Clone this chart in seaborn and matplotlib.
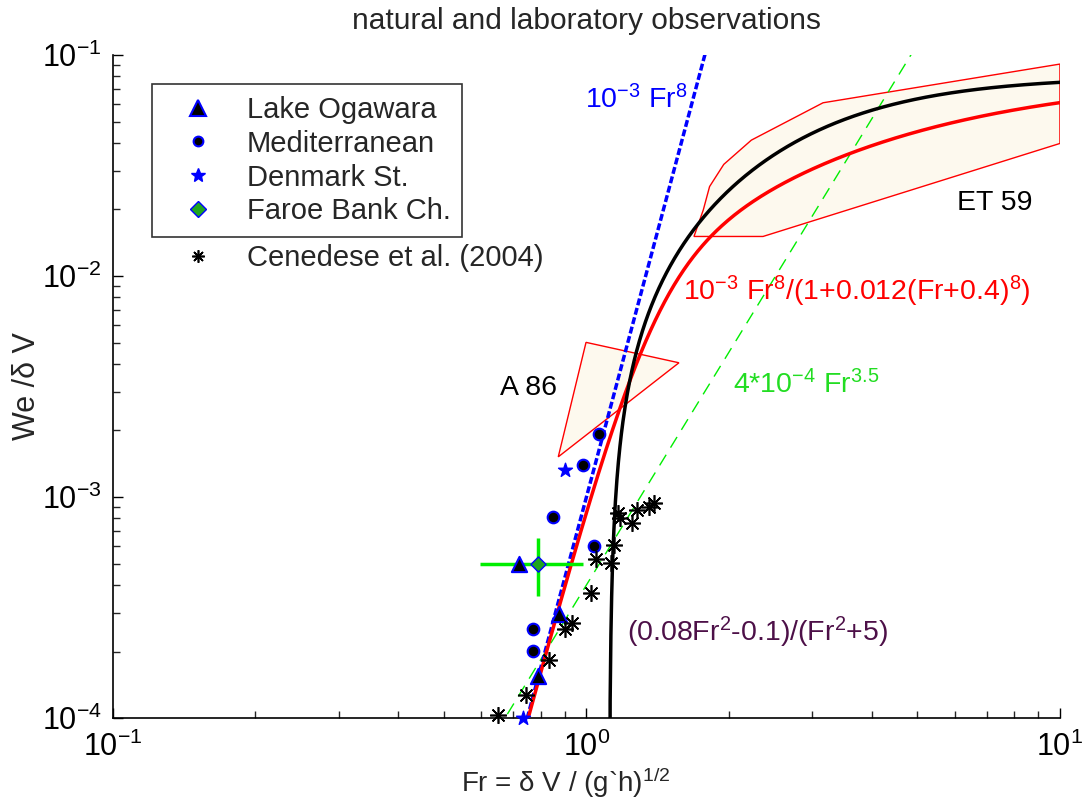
import numpy as np
import matplotlib
matplotlib.use("Agg")
import matplotlib.pyplot as plt
from matplotlib.lines import Line2D
from matplotlib.ticker import LogLocator, NullFormatter
import seaborn as sns

# observations (Fr, We/dV)
ogawara_fr = [0.72, 0.877, 0.79]
ogawara_we = [5.0e-4, 2.96e-4, 1.55e-4]

med_fr = [1.062, 0.982, 0.848, 1.036, 0.771, 0.771]
med_we = [1.93e-3, 1.40e-3, 8.1e-4, 6.0e-4, 2.53e-4, 2.02e-4]

denmark_fr = [0.90, 0.735]
denmark_we = [1.33e-3, 1.0e-4]

faroe_fr = [0.79]
faroe_we = [4.96e-4]
faroe_fr_range = [0.596, 0.984]
faroe_we_range = [3.56e-4, 6.55e-4]

cenedese_fr = [0.651, 0.747, 0.833, 0.901, 0.93, 1.02, 1.05, 1.127, 1.143,
               1.167, 1.18, 1.245, 1.276, 1.356, 1.388]
cenedese_we = [1.03e-4, 1.27e-4, 1.84e-4, 2.52e-4, 2.70e-4, 3.69e-4, 5.22e-4,
               5.04e-4, 6.07e-4, 8.44e-4, 8.0e-4, 7.65e-4, 8.73e-4, 8.98e-4, 9.36e-4]

# shaded ranges
a86_fr = [0.998, 1.568, 0.872]
a86_we = [5.01e-3, 4.05e-3, 1.52e-3]

et59_fr = [1.687, 1.765, 1.82, 1.95, 2.23, 3.16, 10.0, 10.0, 2.36]
et59_we = [1.51e-2, 1.99e-2, 2.54e-2, 3.2e-2, 4.12e-2, 6.08e-2, 9.1e-2, 3.98e-2, 1.51e-2]

# curve coefficients shown in the labels
c_fr8 = 1e-3
c_red = 0.012
shift_red = 0.4
c_green = 4e-4
p_green = 3.5

sns.set_style("ticks")
plt.rcParams["font.family"] = ["Liberation Sans", "DejaVu Sans"]
plt.rcParams["mathtext.fontset"] = "custom"
plt.rcParams["mathtext.rm"] = "Liberation Sans"
plt.rcParams["mathtext.it"] = "Liberation Sans:italic"
plt.rcParams["mathtext.bf"] = "Liberation Sans:bold"

fig = plt.figure(figsize=(10.86, 8.02), dpi=100)
ax = fig.add_axes([0.104, 0.1047, 0.872, 0.8267])
ax.set_xscale("log")
ax.set_yscale("log")

# range polygons
ax.fill(a86_fr, a86_we, facecolor="#fdf9ee", edgecolor="red", linewidth=1, zorder=1)
ax.fill(et59_fr, et59_we, facecolor="#fdf9ee", edgecolor="red", linewidth=1, zorder=1)

# theory curves
fr = np.logspace(-1, 1, 600)
blue = c_fr8 * fr ** 8
sns.lineplot(x=fr, y=blue, color="blue", linewidth=2.5, ax=ax, zorder=3,
             dashes=(2, 0.8), sort=False)
red = c_fr8 * fr ** 8 / (1 + c_red * (fr + shift_red) ** 8)
sns.lineplot(x=fr, y=red, color="red", linewidth=2.5, ax=ax, zorder=3, sort=False)
green = c_green * fr ** p_green
sns.lineplot(x=fr, y=green, color="#00ee00", linewidth=1, ax=ax, zorder=2,
             dashes=(9, 6), sort=False)
frb = np.logspace(np.log10(1.1181), 1, 600)
black = (0.08 * frb ** 2 - 0.1) / (frb ** 2 + 5)
sns.lineplot(x=frb, y=black, color="black", linewidth=2.5, ax=ax, zorder=3, sort=False)

# observations
ax.errorbar(faroe_fr, faroe_we,
            xerr=[[faroe_fr[0] - faroe_fr_range[0]], [faroe_fr_range[1] - faroe_fr[0]]],
            yerr=[[faroe_we[0] - faroe_we_range[0]], [faroe_we_range[1] - faroe_we[0]]],
            fmt="none", ecolor="#00ee00", elinewidth=2.5, capsize=0, zorder=4)
sns.scatterplot(x=faroe_fr, y=faroe_we, marker="D", s=60, color="#1fa51f",
                edgecolor="blue", linewidth=1, ax=ax, zorder=5)
sns.scatterplot(x=med_fr, y=med_we, marker="o", s=70, color="black",
                edgecolor="blue", linewidth=1.5, ax=ax, zorder=5)
sns.scatterplot(x=ogawara_fr, y=ogawara_we, marker="^", s=120, color="black",
                edgecolor="blue", linewidth=1.5, ax=ax, zorder=5)
sns.scatterplot(x=denmark_fr, y=denmark_we, marker="*", s=110, color="blue",
                edgecolor="blue", linewidth=1, ax=ax, zorder=5, clip_on=False)
ax.plot(cenedese_fr, cenedese_we, linestyle="none", marker=(8, 2, 0),
        markersize=12, markeredgewidth=1.2, color="black", zorder=6, clip_on=False)

# labels on the curves
lab_fs = 20.5
ax.text(0.993, 0.0625, r"10$^{-3}$ Fr$^{8}$", color="blue", fontsize=lab_fs, va="center")
ax.text(1.60, 8.5e-3, r"10$^{-3}$ Fr$^{8}$/(1+0.012(Fr+0.4)$^{8}$)", color="red",
        fontsize=lab_fs, va="center")
ax.text(2.04, 3.21e-3, r"4*10$^{-4}$ Fr$^{3.5}$", color="#22dd22", fontsize=lab_fs,
        va="center")
ax.text(1.218, 2.45e-4, r"(0.08Fr$^{2}$-0.1)/(Fr$^{2}$+5)", color="#4d1048",
        fontsize=lab_fs, va="center")
ax.text(0.656, 3.11e-3, "A 86", color="black", fontsize=lab_fs, va="center")
ax.text(6.06, 0.0214, "ET 59", color="black", fontsize=lab_fs, va="center")

ax.set_xlim(0.1, 10)
ax.set_ylim(1e-4, 1e-1)
sns.despine(ax=ax)
for side in ["left", "bottom"]:
    ax.spines[side].set_linewidth(1.2)
    ax.spines[side].set_color("black")

ax.xaxis.set_major_locator(LogLocator(base=10, numticks=10))
ax.xaxis.set_minor_locator(LogLocator(base=10, subs=np.arange(2, 10), numticks=10))
ax.yaxis.set_major_locator(LogLocator(base=10, numticks=10))
ax.yaxis.set_minor_locator(LogLocator(base=10, subs=np.arange(2, 10), numticks=10))
ax.xaxis.set_minor_formatter(NullFormatter())
ax.yaxis.set_minor_formatter(NullFormatter())
ax.tick_params(which="major", direction="in", length=7, width=1, labelsize=22,
               colors="black", pad=10)
ax.tick_params(which="minor", direction="in", length=5, width=1)
ax.tick_params(axis="y", which="major", pad=8)

ax.set_xlabel("Fr = δ V / (g`h)$^{1/2}$", fontsize=20)
ax.xaxis.set_label_coords(0.478, -0.071)
ax.set_ylabel("We /δ V", fontsize=22, labelpad=0)
ax.set_title("natural and laboratory observations", fontsize=21.5, pad=19)

# legend
handles = [
    Line2D([], [], linestyle="none", marker="^", markersize=12, color="black",
           markeredgecolor="blue", markeredgewidth=1.5),
    Line2D([], [], linestyle="none", marker="o", markersize=7, color="black",
           markeredgecolor="blue", markeredgewidth=1.5),
    Line2D([], [], linestyle="none", marker="*", markersize=10, color="blue"),
    Line2D([], [], linestyle="none", marker="D", markersize=8, color="#1fa51f",
           markeredgecolor="blue", markeredgewidth=1),
]
labels = ["Lake Ogawara", "Mediterranean", "Denmark St.", "Faroe Bank Ch."]
leg = ax.legend(handles, labels, loc="upper left", bbox_to_anchor=(0.041, 0.956),
                fontsize=21, frameon=True, fancybox=False, edgecolor="black",
                handletextpad=0.45, borderpad=0.4, labelspacing=0.2,
                handlelength=2.4, borderaxespad=0)
leg.get_frame().set_linewidth(1.2)
ax.add_artist(leg)
leg2 = ax.legend([Line2D([], [], linestyle="none", marker=(8, 2, 0), markersize=9,
                         markeredgewidth=1.2, color="black")],
                 ["Cenedese et al. (2004)"], loc="upper left",
                 bbox_to_anchor=(0.041, 0.733), fontsize=21, frameon=False,
                 handletextpad=0.45, borderpad=0.4, handlelength=2.4, borderaxespad=0)

fig.savefig("out.png", dpi=100)
